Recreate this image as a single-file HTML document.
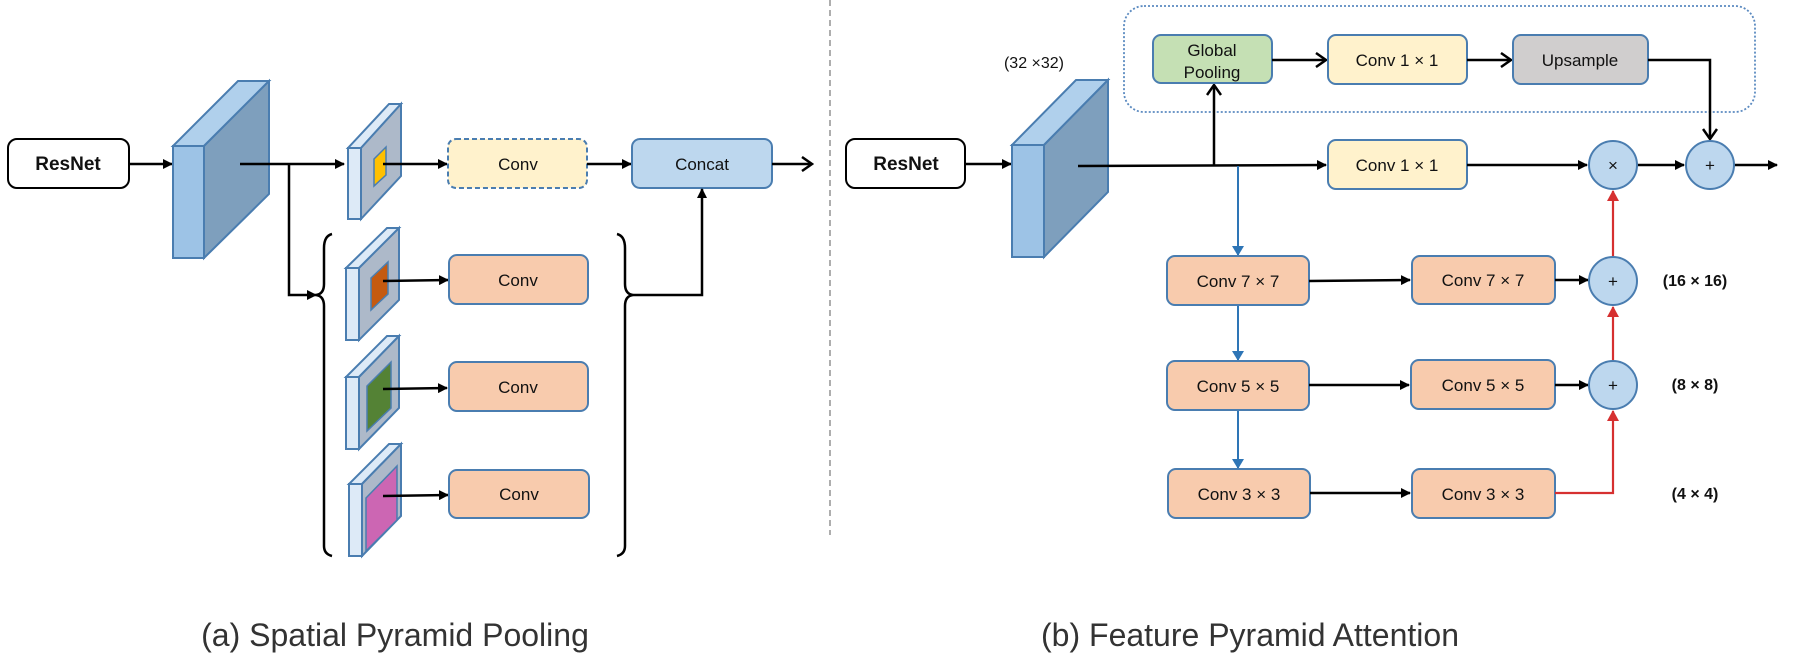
<!DOCTYPE html>
<html><head><meta charset="utf-8"><style>
html,body{margin:0;padding:0;background:#fff;}
svg{display:block;}
text{font-family:"Liberation Sans",sans-serif;}
</style></head><body>
<svg width="1794" height="660" viewBox="0 0 1794 660" xmlns="http://www.w3.org/2000/svg">
<defs>
<marker id="ab" markerWidth="10" markerHeight="10" refX="9" refY="5" orient="auto" markerUnits="userSpaceOnUse"><path d="M0,0 L10,5 L0,10 z" fill="#000"/></marker>
<marker id="ao" markerWidth="14" markerHeight="16" refX="12" refY="8" orient="auto" markerUnits="userSpaceOnUse"><path d="M2,1 L12,8 L2,15" fill="none" stroke="#000" stroke-width="2.5"/></marker>
<marker id="abl" markerWidth="10" markerHeight="12" refX="9" refY="6" orient="auto" markerUnits="userSpaceOnUse"><path d="M0,0 L10,6 L0,12 z" fill="#2e75b6"/></marker>
<marker id="ar" markerWidth="12" markerHeight="12" refX="10" refY="6" orient="auto" markerUnits="userSpaceOnUse"><path d="M0,0 L11,6 L0,12 z" fill="#d63030"/></marker>
</defs>

<line x1="830" y1="0" x2="830" y2="535" stroke="#777" stroke-width="1.2" stroke-dasharray="6,4"/>

<g font-weight="bold" font-size="17" text-anchor="middle" fill="#111">
<rect x="8" y="139" width="121" height="49" rx="9" fill="#fff" stroke="#000" stroke-width="2"/>
<text x="68" y="170" font-size="19">ResNet</text>
<line x1="129" y1="164" x2="172" y2="164" stroke="#000" stroke-width="2.5" marker-end="url(#ab)"/>
<polygon points="173,146 204,146 269,81 238,81" fill="#b0d0ec" stroke="#4a7db0" stroke-width="2"/>
<polygon points="204,146 269,81 269,194 204,258" fill="#7e9fbd" stroke="#4a7db0" stroke-width="2"/>
<rect x="173" y="146" width="31" height="112" fill="#9dc3e6" stroke="#4a7db0" stroke-width="2"/>
<line x1="240" y1="164" x2="344" y2="164" stroke="#000" stroke-width="2.5" marker-end="url(#ab)"/>
<polyline points="289,164 289,295 316,295" fill="none" stroke="#000" stroke-width="2.5" marker-end="url(#ab)"/>

<g stroke="#4a7db0" stroke-width="2">
<polygon points="348,148 361,148 401,104 389,104" fill="#ddeaf7"/>
<polygon points="361,148 401,104 401,176 361,219" fill="#adb9c9"/>
<rect x="348" y="148" width="13" height="71" fill="#ddeaf7"/>
<polygon points="374,159 386,147 386,175 374,186" fill="#ffc000" stroke-width="1.5"/>

<polygon points="346,268 359,268 399,228 387,228" fill="#ddeaf7"/>
<polygon points="359,268 399,228 399,300 359,340" fill="#adb9c9"/>
<rect x="346" y="268" width="13" height="72" fill="#ddeaf7"/>
<polygon points="371,278 388,262 388,294 371,310" fill="#c55a11" stroke-width="1.5"/>

<polygon points="346,377 359,377 399,336 387,336" fill="#ddeaf7"/>
<polygon points="359,377 399,336 399,408 359,449" fill="#adb9c9"/>
<rect x="346" y="377" width="13" height="72" fill="#ddeaf7"/>
<polygon points="367,386 391,362 391,408 367,431" fill="#548235" stroke-width="1.5"/>

<polygon points="349,484 362,484 401,444 389,444" fill="#ddeaf7"/>
<polygon points="362,484 401,444 401,516 362,556" fill="#adb9c9"/>
<rect x="349" y="484" width="13" height="72" fill="#ddeaf7"/>
<polygon points="366,498 397,466 397,520 366,551" fill="#cc66b3" stroke-width="1.5"/>
</g>

<line x1="383" y1="164" x2="447" y2="164" stroke="#000" stroke-width="2.5" marker-end="url(#ab)"/>
<line x1="383" y1="281" x2="448" y2="280" stroke="#000" stroke-width="2.5" marker-end="url(#ab)"/>
<line x1="383" y1="389" x2="447" y2="388" stroke="#000" stroke-width="2.5" marker-end="url(#ab)"/>
<line x1="383" y1="496" x2="448" y2="495" stroke="#000" stroke-width="2.5" marker-end="url(#ab)"/>

<rect x="448" y="139" width="139" height="49" rx="8" fill="#fff2cc" stroke="#4a7db0" stroke-width="2" stroke-dasharray="5,3"/>
<text x="518" y="170" font-weight="normal">Conv</text>
<line x1="587" y1="164" x2="631" y2="164" stroke="#000" stroke-width="2.5" marker-end="url(#ab)"/>
<rect x="632" y="139" width="140" height="49" rx="8" fill="#bdd7ee" stroke="#4a7db0" stroke-width="2"/>
<text x="702" y="170" font-weight="normal">Concat</text>
<line x1="772" y1="164" x2="812" y2="164" stroke="#000" stroke-width="2.5" marker-end="url(#ao)"/>

<g fill="#f8cbad" stroke="#4a7db0" stroke-width="2">
<rect x="449" y="255" width="139" height="49" rx="8"/>
<rect x="449" y="362" width="139" height="49" rx="8"/>
<rect x="449" y="470" width="140" height="48" rx="8"/>
</g>
<text x="518" y="286" font-weight="normal">Conv</text>
<text x="518" y="393" font-weight="normal">Conv</text>
<text x="519" y="500" font-weight="normal">Conv</text>

<path d="M332,234 Q324,236 324,248 L324,284 Q324,294 316,295 Q324,296 324,306 L324,546 Q324,554 332,556" fill="none" stroke="#000" stroke-width="2.5"/>
<path d="M617,234 Q625,236 625,248 L625,284 Q625,294 633,295 Q625,296 625,306 L625,546 Q625,554 617,556" fill="none" stroke="#000" stroke-width="2.5"/>
<polyline points="633,295 702,295 702,189" fill="none" stroke="#000" stroke-width="2.5" marker-end="url(#ab)"/>

<rect x="1124" y="6" width="631" height="106" rx="20" fill="none" stroke="#5b8ac0" stroke-width="1.8" stroke-dasharray="2,2"/>
<rect x="846" y="139" width="119" height="49" rx="9" fill="#fff" stroke="#000" stroke-width="2"/>
<text x="906" y="170" font-size="19">ResNet</text>
<line x1="965" y1="164" x2="1011" y2="164" stroke="#000" stroke-width="2.5" marker-end="url(#ab)"/>
<polygon points="1012,145 1044,145 1108,80 1076,80" fill="#b0d0ec" stroke="#4a7db0" stroke-width="2"/>
<polygon points="1044,145 1108,80 1108,192 1044,257" fill="#7e9fbd" stroke="#4a7db0" stroke-width="2"/>
<rect x="1012" y="145" width="32" height="112" fill="#9dc3e6" stroke="#4a7db0" stroke-width="2"/>
<text x="1034" y="68" font-size="16" font-weight="normal">(32 ×32)</text>

<line x1="1078" y1="166" x2="1326" y2="165" stroke="#000" stroke-width="2.5" marker-end="url(#ab)"/>
<line x1="1214" y1="166" x2="1214" y2="85" stroke="#000" stroke-width="2.5" marker-end="url(#ao)"/>
<line x1="1238" y1="166" x2="1238" y2="255" stroke="#2e75b6" stroke-width="2" marker-end="url(#abl)"/>
<line x1="1238" y1="305" x2="1238" y2="360" stroke="#2e75b6" stroke-width="2" marker-end="url(#abl)"/>
<line x1="1238" y1="410" x2="1238" y2="468" stroke="#2e75b6" stroke-width="2" marker-end="url(#abl)"/>

<rect x="1153" y="35" width="119" height="48" rx="8" fill="#c5e0b4" stroke="#4a7db0" stroke-width="2"/>
<text x="1212" y="56" font-weight="normal">Global</text>
<text x="1212" y="78" font-weight="normal">Pooling</text>
<line x1="1272" y1="60" x2="1326" y2="60" stroke="#000" stroke-width="2.5" marker-end="url(#ao)"/>
<rect x="1328" y="35" width="139" height="49" rx="8" fill="#fff2cc" stroke="#4a7db0" stroke-width="2"/>
<text x="1397" y="66" font-weight="normal">Conv 1 × 1</text>
<line x1="1467" y1="60" x2="1511" y2="60" stroke="#000" stroke-width="2.5" marker-end="url(#ao)"/>
<rect x="1513" y="35" width="135" height="49" rx="8" fill="#d0cece" stroke="#4a7db0" stroke-width="2"/>
<text x="1580" y="66" font-weight="normal">Upsample</text>
<polyline points="1648,60 1710,60 1710,139" fill="none" stroke="#000" stroke-width="2.5" marker-end="url(#ao)"/>

<rect x="1328" y="140" width="139" height="49" rx="8" fill="#fff2cc" stroke="#4a7db0" stroke-width="2"/>
<text x="1397" y="171" font-weight="normal">Conv 1 × 1</text>
<line x1="1467" y1="165" x2="1587" y2="165" stroke="#000" stroke-width="2.5" marker-end="url(#ab)"/>
<line x1="1637" y1="165" x2="1684" y2="165" stroke="#000" stroke-width="2.5" marker-end="url(#ab)"/>
<line x1="1734" y1="165" x2="1777" y2="165" stroke="#000" stroke-width="2.5" marker-end="url(#ab)"/>

<g fill="#f8cbad" stroke="#4a7db0" stroke-width="2">
<rect x="1167" y="256" width="142" height="49" rx="8"/>
<rect x="1167" y="361" width="142" height="49" rx="8"/>
<rect x="1168" y="469" width="142" height="49" rx="8"/>
<rect x="1412" y="256" width="143" height="48" rx="8"/>
<rect x="1411" y="360" width="144" height="49" rx="8"/>
<rect x="1412" y="469" width="143" height="49" rx="8"/>
</g>
<text x="1238" y="287" font-weight="normal">Conv 7 × 7</text>
<text x="1238" y="392" font-weight="normal">Conv 5 × 5</text>
<text x="1239" y="500" font-weight="normal">Conv 3 × 3</text>
<text x="1483" y="286" font-weight="normal">Conv 7 × 7</text>
<text x="1483" y="391" font-weight="normal">Conv 5 × 5</text>
<text x="1483" y="500" font-weight="normal">Conv 3 × 3</text>
<line x1="1309" y1="281" x2="1410" y2="280" stroke="#000" stroke-width="2.5" marker-end="url(#ab)"/>
<line x1="1309" y1="385" x2="1409" y2="385" stroke="#000" stroke-width="2.5" marker-end="url(#ab)"/>
<line x1="1310" y1="493" x2="1410" y2="493" stroke="#000" stroke-width="2.5" marker-end="url(#ab)"/>
<line x1="1555" y1="280" x2="1588" y2="280" stroke="#000" stroke-width="2.5" marker-end="url(#ab)"/>
<line x1="1555" y1="385" x2="1588" y2="385" stroke="#000" stroke-width="2.5" marker-end="url(#ab)"/>

<polyline points="1555,493 1613,493 1613,411" fill="none" stroke="#d63030" stroke-width="2.2" marker-end="url(#ar)"/>
<line x1="1613" y1="360" x2="1613" y2="307" stroke="#d63030" stroke-width="2.2" marker-end="url(#ar)"/>
<line x1="1613" y1="256" x2="1613" y2="191" stroke="#d63030" stroke-width="2.2" marker-end="url(#ar)"/>

<g fill="#bdd7ee" stroke="#4a7db0" stroke-width="2">
<circle cx="1613" cy="165" r="24"/>
<circle cx="1710" cy="165" r="24"/>
<circle cx="1613" cy="281" r="24"/>
<circle cx="1613" cy="385" r="24"/>
</g>
<text x="1613" y="171" font-weight="normal">×</text>
<text x="1710" y="171" font-weight="normal">+</text>
<text x="1613" y="287" font-weight="normal">+</text>
<text x="1613" y="391" font-weight="normal">+</text>

<text x="1695" y="286" font-size="16">(16 × 16)</text>
<text x="1695" y="390" font-size="16">(8 × 8)</text>
<text x="1695" y="499" font-size="16">(4 × 4)</text>
</g>

<g font-size="32" fill="#333" text-anchor="middle">
<text x="395" y="646">(a) Spatial Pyramid Pooling</text>
<text x="1250" y="646">(b) Feature Pyramid Attention</text>
</g>
</svg>
</body></html>
